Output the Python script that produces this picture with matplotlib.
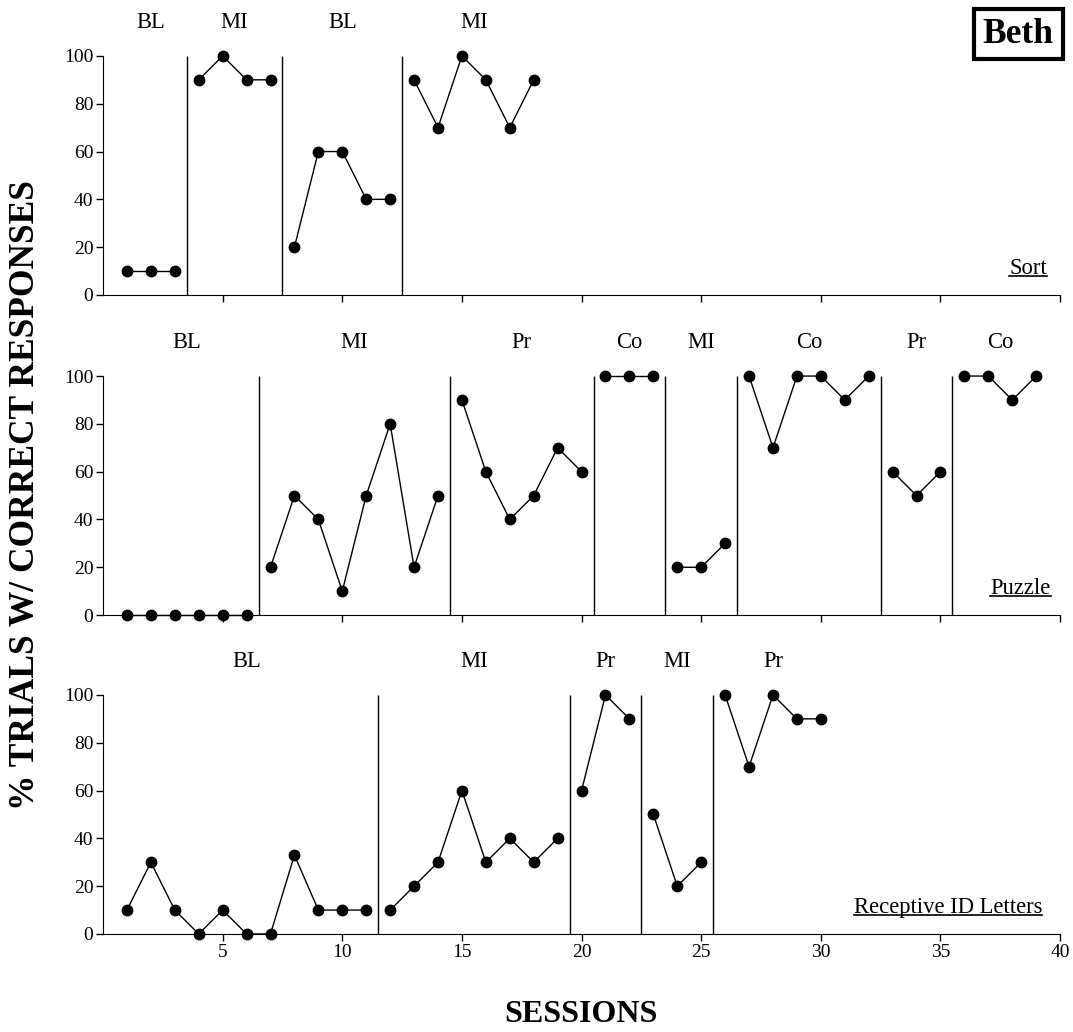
import numpy as np
import matplotlib
matplotlib.use("Agg")
import matplotlib.pyplot as plt

plt.rcParams['font.family'] = ['Liberation Serif', 'DejaVu Serif']

# data: per panel, values by session, phase change lines and phase names
sort_sessions = list(range(1, 19))
sort_values = [10, 10, 10, 90, 100, 90, 90, 20, 60, 60, 40, 40, 90, 70, 100, 90, 70, 90]
sort_lines = [3.5, 7.5, 12.5]
sort_phases = ['BL', 'MI', 'BL', 'MI']

puzzle_sessions = list(range(1, 40))
puzzle_values = [0, 0, 0, 0, 0, 0,
                 20, 50, 40, 10, 50, 80, 20, 50,
                 90, 60, 40, 50, 70, 60,
                 100, 100, 100,
                 20, 20, 30,
                 100, 70, 100, 100, 90, 100,
                 60, 50, 60,
                 100, 100, 90, 100]
puzzle_lines = [6.5, 14.5, 20.5, 23.5, 26.5, 32.5, 35.5]
puzzle_phases = ['BL', 'MI', 'Pr', 'Co', 'MI', 'Co', 'Pr', 'Co']

letters_sessions = list(range(1, 31))
letters_values = [10, 30, 10, 0, 10, 0, 0, 33, 10, 10, 10,
                  10, 20, 30, 60, 30, 40, 30, 40,
                  60, 100, 90,
                  50, 20, 30,
                  100, 70, 100, 90, 90]
letters_lines = [11.5, 19.5, 22.5, 25.5]
letters_phases = ['BL', 'MI', 'Pr', 'MI', 'Pr']

panels = [
    ('Sort', sort_sessions, sort_values, sort_lines, sort_phases),
    ('Puzzle', puzzle_sessions, puzzle_values, puzzle_lines, puzzle_phases),
    ('Receptive ID Letters', letters_sessions, letters_values, letters_lines, letters_phases),
]
name_x = [39.45, 39.6, 39.25]

fig = plt.figure(figsize=(10.73, 10.32), dpi=100)
left, width, height = 0.096, 0.892, 0.2316
bottoms = [0.7142, 0.404, 0.095]

axes = []
for (name, sess, vals, lines, phases), b, nx in zip(panels, bottoms, name_x):
    ax = fig.add_axes([left, b, width, height])
    axes.append(ax)
    sess = np.array(sess)
    vals = np.array(vals)
    edges = [-np.inf] + lines + [np.inf]
    for i, ph in enumerate(phases):
        m = (sess > edges[i]) & (sess < edges[i + 1])
        ax.plot(sess[m], vals[m], color='black', lw=1, marker='o',
                markersize=7.5, clip_on=False, zorder=3)
        ax.text(sess[m].mean(), 114, ph, ha='center', va='center', fontsize=16.3)
    ax.vlines(lines, 0, 100, color='black', lw=1)
    ax.set_xlim(0, 40)
    ax.set_ylim(0, 100)
    ax.set_yticks(range(0, 101, 20))
    ax.set_xticks(range(5, 41, 5))
    ax.spines['top'].set_visible(False)
    ax.spines['right'].set_visible(False)
    ax.tick_params(direction='out', length=5, width=1, labelsize=14, pad=2)
    if name != 'Receptive ID Letters':
        ax.tick_params(axis='x', labelbottom=False)
    ax.text(nx, 11, name, ha='right', va='center', fontsize=16.3)

# underline the panel names
fig.canvas.draw()
renderer = fig.canvas.get_renderer()
for ax in axes:
    t = ax.texts[-1]
    bb = t.get_window_extent(renderer).transformed(fig.transFigure.inverted())
    y = bb.y0 + 0.003
    fig.add_artist(plt.Line2D([bb.x0, bb.x1], [y, y], color='black', lw=1.2))

fig.text(0.024, 0.52, '% TRIALS W/ CORRECT RESPONSES', rotation=90, ha='center',
         va='center', fontsize=25.5, fontweight='bold')
fig.text(0.541, 0.017, 'SESSIONS', ha='center', va='center', fontsize=23,
         fontweight='bold')
fig.text(0.949, 0.967, 'Beth', ha='center', va='center', fontsize=25.5,
         fontweight='bold',
         bbox=dict(boxstyle='square,pad=0.25', fc='white', ec='black', lw=3))

fig.savefig('out.png', dpi=100)
